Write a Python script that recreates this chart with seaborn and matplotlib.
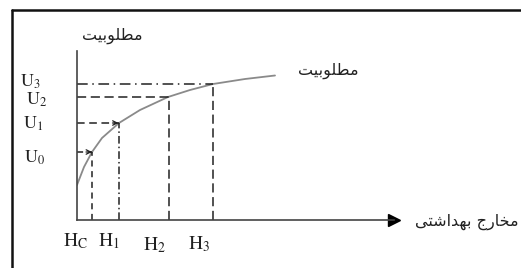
import numpy as np
import pandas as pd
import seaborn as sns
import matplotlib.pyplot as plt
from matplotlib.lines import Line2D

# utility curve (units: origin at the axes corner)
curve_h = [0.0, 0.7, 1.5, 2.5, 4.2, 6.3, 9.1, 11.3, 13.6, 16.8, 19.8]
curve_u = [3.5, 5.3, 6.8, 8.2, 9.7, 11.0, 12.3, 13.0, 13.6, 14.1, 14.45]

h_values = [1.5, 4.15, 9.15, 13.6]
u_values = [6.8, 9.7, 12.3, 13.6]
h_labels = [r'$\mathrm{H}_{\mathrm{C}}$', r'$\mathrm{H}_1$', r'$\mathrm{H}_2$', r'$\mathrm{H}_3$']
u_labels = [r'$\mathrm{U}_0$', r'$\mathrm{U}_1$', r'$\mathrm{U}_2$', r'$\mathrm{U}_3$']

y_title = 'مطلوبیت'
curve_title = 'مطلوبیت'
x_title = 'مخارج بهداشتی'

# --- minimal arabic/persian shaping (matplotlib has no bidi / joining) ---
FORMS = {  # isolated, final, initial, medial
    'م': ('\uFEE1', '\uFEE2', '\uFEE3', '\uFEE4'),
    'ط': ('\uFEC1', '\uFEC2', '\uFEC3', '\uFEC4'),
    'ل': ('\uFEDD', '\uFEDE', '\uFEDF', '\uFEE0'),
    'ب': ('\uFE8F', '\uFE90', '\uFE91', '\uFE92'),
    'ی': ('\uFBFC', '\uFBFD', '\uFBFE', '\uFBFF'),
    'ت': ('\uFE95', '\uFE96', '\uFE97', '\uFE98'),
    'خ': ('\uFEA5', '\uFEA6', '\uFEA7', '\uFEA8'),
    'ج': ('\uFE9D', '\uFE9E', '\uFE9F', '\uFEA0'),
    'ه': ('\uFEE9', '\uFEEA', '\uFEEB', '\uFEEC'),
    'ش': ('\uFEB5', '\uFEB6', '\uFEB7', '\uFEB8'),
    'و': ('\uFEED', '\uFEEE'),
    'ا': ('\uFE8D', '\uFE8E'),
    'ر': ('\uFEAD', '\uFEAE'),
    'د': ('\uFEA9', '\uFEAA'),
}


def shape(text):
    out = []
    for i, ch in enumerate(text):
        if ch not in FORMS:
            out.append(ch)
            continue
        prev = text[i - 1] if i > 0 else ''
        nxt = text[i + 1] if i < len(text) - 1 else ''
        join_prev = prev in FORMS and len(FORMS[prev]) == 4
        join_next = nxt in FORMS and len(FORMS[ch]) == 4
        f = FORMS[ch]
        if join_prev and join_next:
            out.append(f[3])
        elif join_prev:
            out.append(f[1])
        elif join_next:
            out.append(f[2])
        else:
            out.append(f[0])
    return ''.join(reversed(out))


sns.set_theme(style='white')
plt.rcParams['font.family'] = ['DejaVu Sans']
plt.rcParams['mathtext.fontset'] = 'stix'

W, H = 521, 268
fig = plt.figure(figsize=(W / 100, H / 100), dpi=100)
ax = fig.add_axes([77 / W, 48 / H, (394 - 77) / W, (220 - 51) / H])
ax.set_xlim(0, 31.7)
ax.set_ylim(0, 16.9)

# frame of the figure (top + left only)
fig.add_artist(Line2D([12 / W, 1], [1 - 10 / H] * 2, color='#111111', lw=1.8))
fig.add_artist(Line2D([12 / W] * 2, [0, 1 - 10 / H], color='#111111', lw=1.8))

df = pd.DataFrame({'h': curve_h, 'u': curve_u})
sns.lineplot(data=df, x='h', y='u', ax=ax, color='#8a8a8a', lw=1.3)

# guide lines
h_styles = [(0, (4, 3)), (0, (5, 2, 1, 2)), (0, (6, 3)), (0, (6, 3))]
u_styles = [(0, (4, 3)), (0, (5, 3)), (0, (6, 3)), (0, (7, 3, 1, 3))]
for h, u, hs, us in zip(h_values, u_values, h_styles, u_styles):
    ax.vlines(h, 0, u, color='#222222', lw=1.1, linestyles=[hs])
    ax.hlines(u, 0, h, color='#222222', lw=1.1, linestyles=[us])
for h, u in zip(h_values[:2], u_values[:2]):
    ax.annotate('', xy=(h, u), xytext=(h - 0.6, u),
                arrowprops=dict(arrowstyle='->', color='#222222', lw=0.9,
                                mutation_scale=8, shrinkA=0, shrinkB=0))

# axes
sns.despine(ax=ax, top=True, right=True)
ax.spines['left'].set_color('#444444')
ax.spines['bottom'].set_color('#444444')
ax.spines['left'].set_linewidth(1.2)
ax.spines['bottom'].set_linewidth(1.2)
ax.set_xticks([])
ax.set_yticks([])
ax.set_xlabel('')
ax.set_ylabel('')
ax.plot(1, 0, '>', color='black', ms=9, transform=ax.transAxes, clip_on=False)

# labels
u_offsets = [(-42, -6), (-44, -1), (-40, -3), (-47, 2)]
for u, lab, off in zip(u_values, u_labels, u_offsets):
    ax.annotate(lab, xy=(0, u), xytext=off, textcoords='offset pixels',
                ha='center', va='center', fontsize=13, color='#222222',
                annotation_clip=False)
h_offsets = [(-16, -21), (-10, -21), (-14, -25), (-14, -24)]
for h, lab, off in zip(h_values, h_labels, h_offsets):
    ax.annotate(lab, xy=(h, 0), xytext=off, textcoords='offset pixels',
                ha='center', va='center', fontsize=14, color='#222222',
                annotation_clip=False)

fig.text(112 / W, 1 - 36 / H, shape(y_title), ha='center', va='center',
         fontsize=11.5, color='#222222')
fig.text(328 / W, 1 - 71 / H, shape(curve_title), ha='center', va='center',
         fontsize=11.5, color='#222222')
fig.text(467 / W, 1 - 222 / H, shape(x_title), ha='center', va='center',
         fontsize=11.5, color='#222222')

fig.savefig('out.png', dpi=100)
plt.close(fig)
